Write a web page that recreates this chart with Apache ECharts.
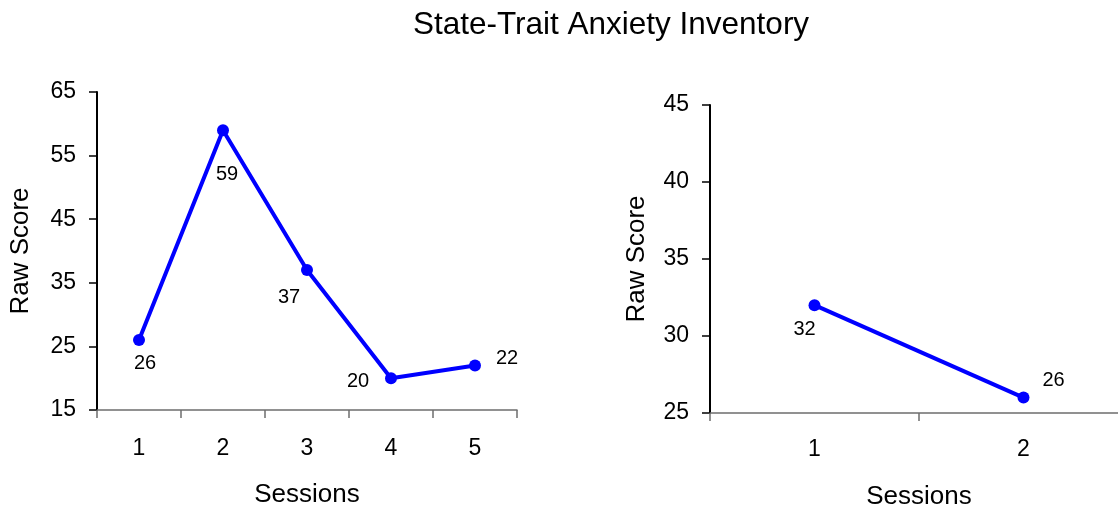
<!DOCTYPE html>
<html>
<head>
<meta charset="utf-8">
<script src="https://cdn.jsdelivr.net/npm/echarts@6/dist/echarts.min.js"></script>
<style>
  html, body { margin: 0; padding: 0; background: #fff; }
  #chart { width: 1118px; height: 508px; }
</style>
</head>
<body>
<div id="chart"></div>
<script>
// Session scores for the two panels
const sessionsA = ['1', '2', '3', '4', '5'];
const scoresA = [26, 59, 37, 20, 22];
const sessionsB = ['1', '2'];
const scoresB = [32, 26];

// Value label offsets (px) relative to each point
const labelOffsetsA = [[6, 23], [4, 44], [-18, 27], [-33, 3], [32, -7]];
const labelOffsetsB = [[-10, 24], [30, -17]];

const FONT = 'Liberation Sans, Arial, Helvetica, sans-serif';
const BLUE = '#0000ff';

function pointData(values, offsets) {
  return values.map((v, i) => ({
    value: v,
    label: { offset: offsets[i] }
  }));
}

function xAxisFor(cats, gridIndex, margin, nameGap) {
  return {
    type: 'category',
    gridIndex: gridIndex,
    data: cats,
    boundaryGap: true,
    name: 'Sessions',
    nameLocation: 'middle',
    nameGap: nameGap,
    nameTextStyle: { fontFamily: FONT, fontSize: 26, color: '#000' },
    axisLine: { show: true, lineStyle: { color: '#6e6e6e', width: 1.5 } },
    axisTick: { show: true, alignWithLabel: false, length: 8, lineStyle: { color: '#6e6e6e', width: 1.5 } },
    axisLabel: { fontFamily: FONT, fontSize: 23, color: '#000', margin: margin },
    splitLine: { show: false }
  };
}

function yAxisFor(gridIndex, min, max, interval, nameGap) {
  return {
    type: 'value',
    gridIndex: gridIndex,
    min: min,
    max: max,
    interval: interval,
    name: 'Raw Score',
    nameLocation: 'middle',
    nameRotate: 90,
    nameGap: nameGap,
    nameTextStyle: { fontFamily: FONT, fontSize: 26, color: '#000' },
    axisLine: { show: true, lineStyle: { color: '#000', width: 2 } },
    axisTick: { show: true, length: 8, lineStyle: { color: '#000', width: 1.5 } },
    axisLabel: { fontFamily: FONT, fontSize: 23, color: '#000', margin: 21 },
    splitLine: { show: false }
  };
}

function lineSeries(values, offsets, idx) {
  return {
    type: 'line',
    xAxisIndex: idx,
    yAxisIndex: idx,
    data: pointData(values, offsets),
    symbol: 'circle',
    symbolSize: 12,
    itemStyle: { color: BLUE },
    lineStyle: { color: BLUE, width: 4 },
    label: {
      show: true,
      position: 'inside',
      fontFamily: FONT,
      fontSize: 20,
      color: '#000'
    },
    animation: false
  };
}

const chart = echarts.init(document.getElementById('chart'), null, { renderer: 'canvas' });
chart.setOption({
  backgroundColor: '#fff',
  animation: false,
  title: {
    text: 'State-Trait Anxiety Inventory',
    left: 606,
    top: 4,
    textAlign: 'center',
    textStyle: { fontFamily: FONT, fontSize: 31.5, fontWeight: 'normal', color: '#000' }
  },
  // Fixed plot rectangles; the right panel's axis runs past the page edge
  grid: [
    { left: 97, top: 92, width: 420, height: 318, outerBoundsMode: 'none', containLabel: false },
    { left: 710, top: 105, width: 418, height: 308, outerBoundsMode: 'none', containLabel: false }
  ],
  xAxis: [
    xAxisFor(sessionsA, 0, 27, 72),
    xAxisFor(sessionsB, 1, 25, 71)
  ],
  yAxis: [
    yAxisFor(0, 15, 65, 10, 63),
    yAxisFor(1, 25, 45, 5, 60)
  ],
  series: [
    lineSeries(scoresA, labelOffsetsA, 0),
    lineSeries(scoresB, labelOffsetsB, 1)
  ]
});
</script>
</body>
</html>
